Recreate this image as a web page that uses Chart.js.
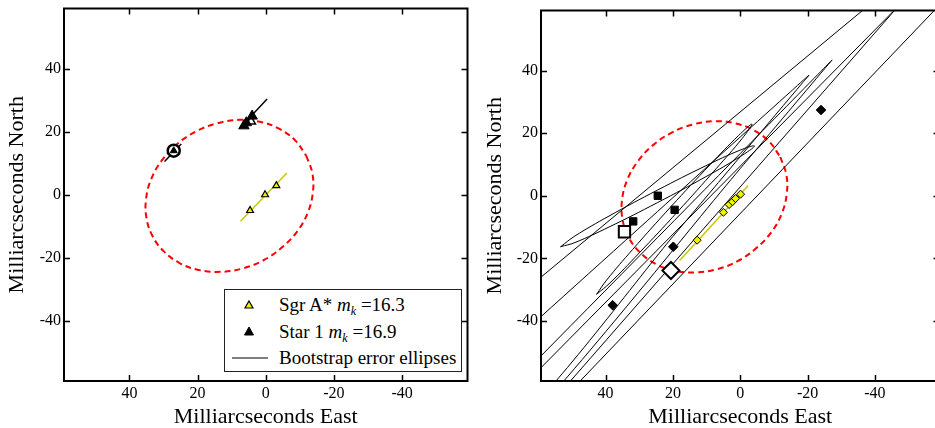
<!DOCTYPE html>
<html>
<head>
<meta charset="utf-8">
<script src="https://cdn.jsdelivr.net/npm/chart.js@4.4.1/dist/chart.umd.min.js"></script>
<style>
  html, body { margin: 0; padding: 0; background: #fff; overflow: hidden; }
  #wrap { position: relative; width: 935px; height: 428px; overflow: hidden; }
  #left { position: absolute; left: 0; top: 0; }
  #right { position: absolute; left: 470px; top: 0; }
  .legend {
    position: absolute; left: 224px; top: 289px; width: 238px; height: 83px;
    box-sizing: border-box; border: 1px solid #222; background: #fff;
    font-family: "Liberation Serif", serif; font-size: 19px; color: #000;
  }
  .row { position: absolute; left: 0; width: 100%; height: 22px; line-height: 22px; }
  .row svg { position: absolute; left: 0; top: 0; }
  .row span { position: absolute; left: 54px; white-space: nowrap; }
  .row sub { font-size: 12px; vertical-align: -4px; line-height: 0; }
</style>
</head>
<body>
<div id="wrap">
  <canvas id="left" width="476" height="428"></canvas>
  <canvas id="right" width="480" height="428"></canvas>
  <div class="legend">
    <div class="row" style="top:4px">
      <svg width="50" height="22"><polygon points="24,7 28,14 20,14" fill="#f0f000" stroke="#000" stroke-width="1.2"/></svg>
      <span>Sgr A* <i>m</i><sub><i>k</i></sub> =16.3</span>
    </div>
    <div class="row" style="top:31px">
      <svg width="50" height="22"><polygon points="24,6 28.5,14 19.5,14" fill="#000" stroke="#000" stroke-width="1"/></svg>
      <span>Star 1 <i>m</i><sub><i>k</i></sub> =16.9</span>
    </div>
    <div class="row" style="top:57px">
      <svg width="50" height="22"><line x1="7" y1="11" x2="43" y2="11" stroke="#000" stroke-width="1"/></svg>
      <span>Bootstrap error ellipses</span>
    </div>
  </div>
</div>
<script>
// positions are [east, north] in milliarcseconds
const tickValues = [40, 20, 0, -20, -40];

// dashed orbit (both panels)
const orbit = [
  [-11.9, 12.4], [-13.7, 6.7], [-13.8, 0.5], [-12.3, -5.8], [-9.2, -11.7], [-4.7, -16.8],
  [0.8, -20.9], [7.0, -23.5], [13.4, -24.5], [19.7, -23.9], [25.3, -21.7], [29.9, -18.0],
  [33.2, -13.2], [35.0, -7.4], [35.1, -1.2], [33.6, 5.0], [30.5, 10.9], [26.0, 16.1],
  [20.5, 20.1], [14.3, 22.7], [7.9, 23.8], [1.7, 23.2], [-3.9, 21.0], [-8.6, 17.3], [-11.9, 12.4]
];

// left panel
const sgrTrack = [[7.4, -8.4], [-6.2, 6.9]];
const sgrEpochs = [[4.6, -5.0], [0.2, 0.0], [-3.1, 2.9]];
const star1Track = [[7.5, 21.3], [-0.4, 30.4]];
const star1Epochs = [[5.7, 22.9], [4.0, 25.0], [6.4, 21.9]];
const star1Open = [[4.3, 23.3]];
const star2Track = [[29.7, 10.6], [24.8, 16.1]];
const star2Pos = [[27.0, 14.0]];

// right panel
const sgrTrackR = [[18.0, -20.7], [-2.3, 3.2]];
const sgrEpochsR = [[12.8, -14.2], [5.0, -5.3], [3.3, -2.8], [2.3, -1.9], [1.4, -0.9], [-0.1, 0.5]];
const squares = [[24.5, 0.0], [19.5, -4.5], [31.8, -8.2]];
const openSquare = [[34.4, -11.5]];
const diamonds = [[19.9, -16.3], [37.9, -35.0], [-24.0, 27.4]];
const openDiamond = [[20.6, -23.9]];

// bootstrap error ellipse outlines (right panel)
const ellipseA = [
  [53.4, -16.3], [49.1, -12.85], [39.0, -6.5], [24.6, 1.8], [10.2, 9.6], [0.1, 14.55], [-4.2, 15.9],
  [0.1, 12.45], [10.2, 6.1], [24.6, -2.2], [39.0, -10.0], [49.1, -14.95], [53.4, -16.3]
];
const ellipseB = [
  [42.7, -31.5], [39.7, -26.95], [32.0, -17.2], [20.6, -3.5], [8.9, 10.0], [0.5, 19.25], [-3.5, 22.9],
  [-0.6, 18.35], [7.2, 8.6], [18.6, -5.1], [30.3, -18.6], [38.7, -27.85], [42.7, -31.5]
];
const ellipseC = [[70, -49.1], [20, -0.6], [-15, 33.3], [-20.4, 38.5], [-18.5, 36.1], [20, -13.0], [65, -70.4], [70, -49.1]];
const ellipseD = [[70, -63.0], [0, 13.5], [-24, 39.8], [-27.3, 43.4], [-25, 40.5], [0, 8.7], [65, -73.9], [70, -63.0]];
const ellipseE = [[-50, 71.4], [-70, 73.1], [60, -73.2], [75, -40.1], [-50, 71.4]];
const ellipseF = [[-46.8, 60.4], [70, -66.7], [65, -77.1], [-46.8, 60.4]];

const pts = arr => arr.map(p => ({ x: p[0], y: p[1] }));
const SERIF = '"Liberation Serif", "Times New Roman", serif';
const YELLOW = '#f0f000';
const OLIVE = '#c8c800';

// frame with inward ticks on all four sides
const framePlugin = {
  id: 'frame',
  afterDraw(chart) {
    const { ctx, chartArea: a, scales: { x, y } } = chart;
    ctx.save();
    ctx.strokeStyle = '#000';
    ctx.lineWidth = 1.5;
    ctx.beginPath();
    x.ticks.forEach(t => {
      const px = Math.round(x.getPixelForValue(t.value)) + 0.5;
      ctx.moveTo(px, a.top); ctx.lineTo(px, a.top + 6);
      ctx.moveTo(px, a.bottom); ctx.lineTo(px, a.bottom - 6);
    });
    y.ticks.forEach(t => {
      const py = Math.round(y.getPixelForValue(t.value)) + 0.5;
      ctx.moveTo(a.left, py); ctx.lineTo(a.left + 6, py);
      ctx.moveTo(a.right, py); ctx.lineTo(a.right - 6, py);
    });
    ctx.stroke();
    ctx.lineWidth = 2;
    ctx.strokeRect(a.left, a.top, a.right - a.left, a.bottom - a.top);
    ctx.restore();
  }
};

function noPad(s) {
  s.paddingTop = 0; s.paddingBottom = 0; s.paddingLeft = 0; s.paddingRight = 0;
}

function makeOptions(yWidth, yTitlePad) {
  const common = {
    type: 'linear', min: -59.2, max: 59.2,
    grid: { display: false, drawTicks: false }, border: { display: false },
    ticks: { font: { family: SERIF, size: 16 }, color: '#000', maxRotation: 0, includeBounds: false },
    afterBuildTicks: s => { s.ticks = tickValues.map(v => ({ value: v })); }
  };
  return {
    responsive: false, animation: false, events: [], devicePixelRatio: 1,
    layout: { padding: { top: 7, right: 5, left: 0, bottom: 0 } },
    plugins: { legend: { display: false }, tooltip: { enabled: false } },
    scales: {
      x: {
        ...common, reverse: true,
        ticks: { ...common.ticks, padding: 3 },
        afterFit: s => { s.height = 47; noPad(s); },
        title: { display: true, text: 'Milliarcseconds East', color: '#000',
          font: { family: SERIF, size: 22, lineHeight: 1 }, padding: { top: 0, bottom: 0 } }
      },
      y: {
        ...common,
        ticks: { ...common.ticks, padding: 3 },
        afterFit: s => { s.width = yWidth; noPad(s); },
        title: { display: true, text: 'Milliarcseconds North', color: '#000',
          font: { family: SERIF, size: 22, lineHeight: 1 }, padding: { top: yTitlePad, bottom: 0 } }
      }
    }
  };
}

function lineSet(arr, color, width, extra) {
  return { data: pts(arr), showLine: true, borderColor: color, borderWidth: width,
    pointRadius: 0, tension: 0, fill: false, ...extra };
}
function markSet(arr, style, radius, fillColor, borderWidth) {
  return { data: pts(arr), showLine: false, pointStyle: style, pointRadius: radius,
    backgroundColor: fillColor, borderColor: '#000', borderWidth: borderWidth };
}
const orbitSet = () => lineSet(orbit, '#f00', 2, { borderDash: [6, 4], tension: 0.4 });

new Chart(document.getElementById('left'), {
  type: 'scatter',
  data: {
    datasets: [
      markSet(sgrEpochs, 'triangle', 4, YELLOW, 1.2),
      markSet(star1Epochs, 'triangle', 6, '#000', 1),
      markSet(star1Open, 'triangle', 5, '#fff', 1.5),
      markSet(star2Pos, 'triangle', 4, '#000', 1),
      markSet(star2Pos, 'circle', 6, '#fff', 2.5),
      lineSet(sgrTrack, OLIVE, 1.5),
      lineSet(star1Track, '#000', 1.5),
      lineSet(star2Track, '#000', 1.5),
      orbitSet()
    ]
  },
  options: makeOptions(64, 6),
  plugins: [framePlugin]
});

new Chart(document.getElementById('right'), {
  type: 'scatter',
  data: {
    datasets: [
      markSet(sgrEpochsR, 'rectRot', 4, YELLOW, 1),
      markSet(squares, 'rect', 5.2, '#000', 1),
      markSet(openSquare, 'rect', 8, '#fff', 2),
      markSet(diamonds, 'rectRot', 4.8, '#000', 1),
      markSet(openDiamond, 'rectRot', 8.5, '#fff', 2),
      lineSet(sgrTrackR, OLIVE, 1.5),
      lineSet(ellipseA, '#000', 1, { tension: 0.4 }),
      lineSet(ellipseB, '#000', 1, { tension: 0.4 }),
      lineSet(ellipseC, '#000', 1, { tension: 0.2 }),
      lineSet(ellipseD, '#000', 1, { tension: 0.2 }),
      lineSet(ellipseE, '#000', 1),
      lineSet(ellipseF, '#000', 1),
      orbitSet()
    ]
  },
  options: makeOptions(71, 14),
  plugins: [framePlugin]
});
</script>
</body>
</html>
